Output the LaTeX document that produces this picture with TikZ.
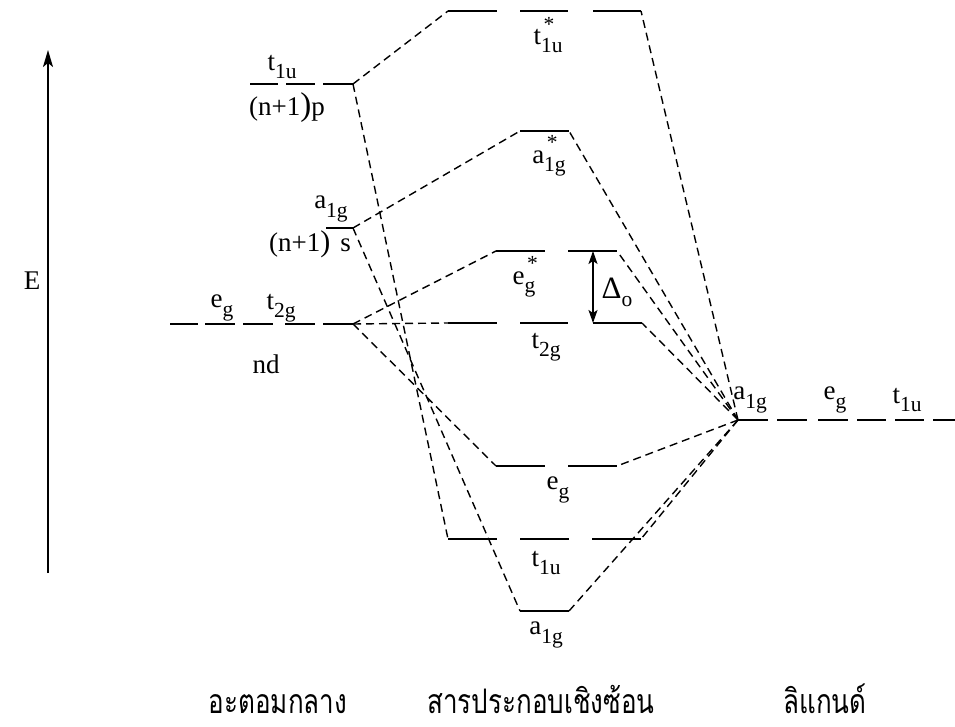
\documentclass[tikz,border=0pt]{standalone}
\usepackage{fontspec}
\setmainfont{Liberation Serif}
\newfontfamily\thaifont[Script=Thai]{Loma}
\usetikzlibrary{arrows.meta}
\newcommand{\orb}[2]{#1\raisebox{-0.3em}{\fontsize{21.5}{21.5}\selectfont #2}}
\newcommand{\orbs}[2]{#1\raisebox{-0.3em}{\fontsize{21.5}{21.5}\selectfont\rlap{\hspace{0.12em}\raisebox{1.0em}{*}}#2}}
\newcommand{\thaitext}[1]{\scalebox{1.0}[1.3]{#1}}
\begin{document}
\begin{tikzpicture}[x=1pt,y=-1pt,
  level/.style={line width=1.7pt},
  conn/.style={line width=1.4pt, dash pattern=on 8pt off 5pt},
  lbl/.style={inner sep=0pt, font=\fontsize{27}{27}\selectfont},
  thai/.style={inner sep=0pt, anchor=base, font=\thaifont\fontsize{26}{26}\selectfont}]
\useasboundingbox (0,0) rectangle (955,727);

% ---- end points of levels
\coordinate (mpR) at (353,84);
\coordinate (msR) at (353,228);
\coordinate (mdR) at (353,324);
\coordinate (tsL) at (448,11);   \coordinate (tsR) at (641,11);
\coordinate (asL) at (520,131);  \coordinate (asR) at (569,131);
\coordinate (esL) at (496,251);  \coordinate (esR) at (617,251);
\coordinate (t2L) at (448,323);  \coordinate (t2R) at (642,323);
\coordinate (ebL) at (496,466);  \coordinate (ebR) at (617,466);
\coordinate (tbL) at (448,539);  \coordinate (tbR) at (641,539);
\coordinate (abL) at (520,611);  \coordinate (abR) at (569,611);
\coordinate (lig) at (738,420);

% ---- energy axis
\coordinate (ebot) at (48,573);
\coordinate (etop) at (48,50);
\draw[line width=1.7pt,-{Stealth[length=17pt,width=10pt,inset=4pt]}] (ebot) -- (etop);
\node[lbl] (E) at (32,281) {E};

% ---- metal levels
\draw[level] (250,84) -- (278,84) (286,84) -- (315,84) (323,84) -- (mpR);
\draw[level] (326,228) -- (msR);
\draw[level] (170,324) -- (198,324) (205,324) -- (235,324) (243,324) -- (273,324)
             (285,324) -- (315,324) (323,324) -- (mdR);

% ---- complex levels
\draw[level] (tsL) -- (497,11) (520,11) -- (568,11) (593,11) -- (tsR);
\draw[level] (asL) -- (asR);
\draw[level] (esL) -- (545,251) (568,251) -- (esR);
\draw[level] (t2L) -- (497,323) (520,323) -- (568,323) (593,323) -- (t2R);
\draw[level] (ebL) -- (545,466) (568,466) -- (ebR);
\draw[level] (tbL) -- (497,539) (520,539) -- (569,539) (592,539) -- (tbR);
\draw[level] (abL) -- (abR);

% ---- ligand levels
\draw[level] (lig) -- (768,420) (777,420) -- (807,420) (818,420) -- (848,420)
             (857,420) -- (886,420) (895,420) -- (924,420) (933,420) -- (955,420);

% ---- splitting
\coordinate (dtop) at (593,251);
\coordinate (dbot) at (593,323);
\draw[line width=1.7pt,{Stealth[length=13pt,width=9pt,inset=3pt]}-{Stealth[length=13pt,width=9pt,inset=3pt]}] (dtop) -- (dbot);
\node[lbl] (Do) at (617,292) {{\fontsize{31}{31}\selectfont Δ}\raisebox{-0.3em}{\fontsize{21.5}{21.5}\selectfont o}};

% ---- connectors
\draw[conn] (mpR) -- (tsL);
\draw[conn] (mpR) -- (tbL);
\draw[conn] (msR) -- (asL);
\draw[conn] (msR) -- (abL);
\draw[conn] (mdR) -- (esL);
\draw[conn] (mdR) -- (t2L);
\draw[conn] (mdR) -- (ebL);
\draw[conn] (lig) -- (tsR);
\draw[conn] (lig) -- (asR);
\draw[conn] (lig) -- (esR);
\draw[conn] (lig) -- (t2R);
\draw[conn] (lig) -- (ebR);
\draw[conn] (lig) -- (tbR);
\draw[conn] (lig) -- (abR);

% ---- metal labels
\node[lbl] (lmp) at (282,67) {\orb{t}{1u}};
\node[lbl] (lnp) at (287,108) {(n+1{\fontsize{33}{33}\selectfont)}p};
\node[lbl] (lms) at (331,209) {\orb{a}{1g}};
\node[lbl] (lns) at (310,244) {(n+1{\fontsize{30}{30}\selectfont)}\hspace{10pt}s};
\node[lbl] (lmeg) at (222,308) {\orb{e}{g}};
\node[lbl] (lmt2) at (281,308) {\orb{t}{2g}};
\node[lbl] (lnd) at (266,364) {nd};

% ---- complex labels
\node[lbl] (lts) at (548,35) {\orbs{t}{1u}};
\node[lbl] (las) at (549,156) {\orbs{a}{1g}};
\node[lbl] (les) at (524,277) {\orbs{e}{g}};
\node[lbl] (lt2) at (546,347) {\orb{t}{2g}};
\node[lbl] (leb) at (558,490) {\orb{e}{g}};
\node[lbl] (ltb) at (546,563) {\orb{t}{1u}};
\node[lbl] (lab) at (546,635) {\orb{a}{1g}};

% ---- ligand labels
\node[lbl] (lla) at (750,400) {\orb{a}{1g}};
\node[lbl] (lle) at (835,400) {\orb{e}{g}};
\node[lbl] (llt) at (907,400) {\orb{t}{1u}};

% ---- captions
\node[thai] (c1) at (278,713) {\thaitext{อะตอมกลาง}};
\node[thai] (c2) at (541,713) {\thaitext{สารประกอบเชิงซ้อน}};
\node[thai] (c3) at (825,713) {\thaitext{ลิแกนด์}};
\end{tikzpicture}
\end{document}
